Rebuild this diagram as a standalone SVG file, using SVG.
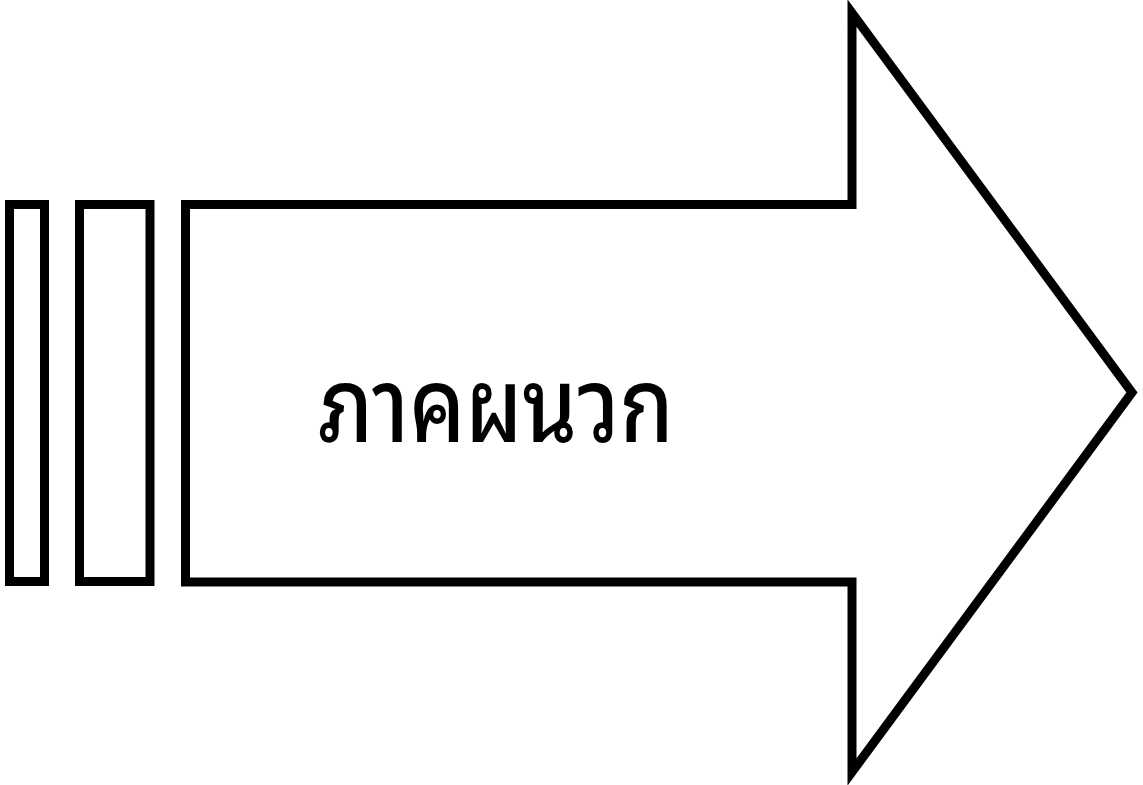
<svg xmlns="http://www.w3.org/2000/svg" width="1143" height="785" viewBox="0 0 1143 785">
<style>
.s{fill:#fff;stroke:#000;stroke-width:9;stroke-linejoin:miter;stroke-miterlimit:10}
.t{font-family:"Noto Sans Thai Looped","Noto Sans Thai","Noto Sans",sans-serif;font-weight:500;font-size:104px;fill:#000}
</style>
<rect width="1143" height="785" fill="#fff"/>
<g id="bar1"><rect class="s" x="9.5" y="204.5" width="35" height="377"/></g>
<g id="bar2"><rect class="s" x="79.5" y="204.5" width="70.5" height="377"/></g>
<g id="arrow">
<path class="s" d="M185.5,204.5 H852 V13 L1132,392.5 L852,772 V582 H185.5 Z"/>
<text class="t" x="318" y="442" textLength="356" lengthAdjust="spacingAndGlyphs">ภาคผนวก</text>
</g>
</svg>
